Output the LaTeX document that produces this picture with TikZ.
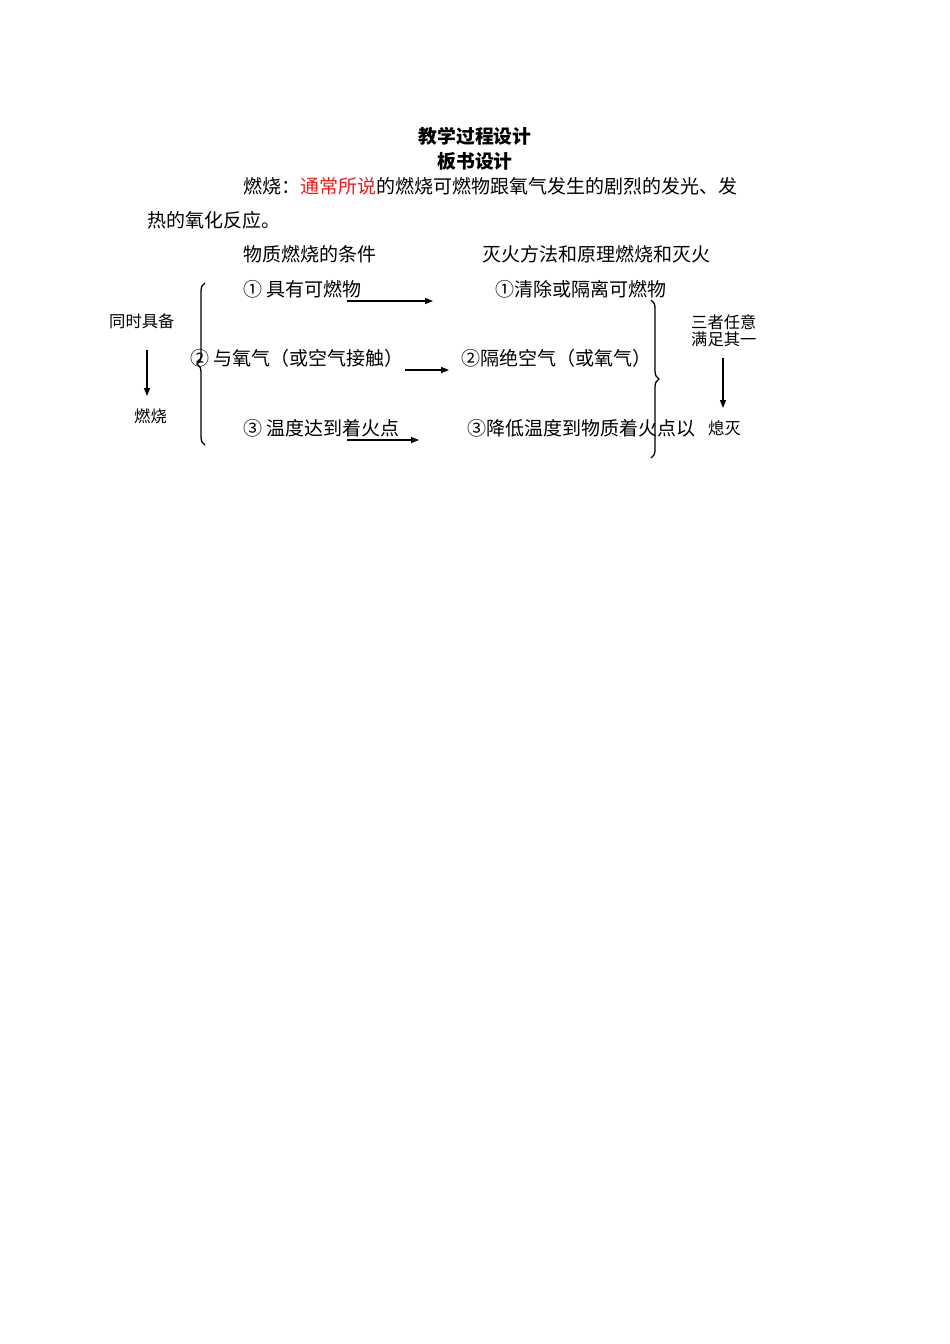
\documentclass[tikz,border=0pt]{standalone}
\usepackage{fontspec}
\setmainfont{Noto Sans CJK SC}
\usetikzlibrary{decorations.pathreplacing,arrows.meta}
\definecolor{redtext}{RGB}{230,30,30}
\begin{document}
\begin{tikzpicture}[x=1pt,y=-1pt,
  body/.style={anchor=west,inner sep=0pt,font=\fontsize{19}{21}\selectfont},
  small/.style={anchor=west,inner sep=0pt,font=\fontsize{16.3}{17}\selectfont},
  title/.style={anchor=center,inner sep=0pt,font=\fontsize{18.8}{20}\selectfont\bfseries},
  arr/.style={-{Triangle[length=8pt,width=6pt]},line width=1.4pt},
  brc/.style={decorate,decoration={brace,amplitude=8pt},line width=1.3pt}]
\useasboundingbox (0,0) rectangle (950,1344);
\node[title] (t1) at (475,136) {教学过程设计};
\node[title] (t2) at (475,161) {板书设计};
\node[body] (p1) at (243,186) {燃烧：\textcolor{redtext}{通常所说}的燃烧可燃物跟氧气发生的剧烈的发光、发};
\node[body] (p2) at (147,220) {热的氧化反应。};
\node[body] (h1) at (243,254) {物质燃烧的条件};
\node[body] (h2) at (482,254) {灭火方法和原理燃烧和灭火};
\node[body] (a1) at (243,289) {① 具有可燃物};
\node[body] (b1) at (495,289) {①清除或隔离可燃物};
\node[body] (a2) at (190,358) {② 与氧气（或空气接触）};
\node[body] (b2) at (461,358) {②隔绝空气（或氧气）};
\node[body] (a3) at (243,428) {③ 温度达到着火点};
\node[body] (b3) at (467,428) {③降低温度到物质着火点以};
\node[small] (xm) at (708,428) {熄灭};
\node[small] (tj) at (109,321) {同时具备};
\node[small] (rs) at (134,416) {燃烧};
\node[small,align=center,font=\fontsize{16.3}{16.8}\selectfont] (sz) at (691,331) {三者任意\\满足其一};
\coordinate (s1) at (347,301); \coordinate (e1) at (433,301);
\coordinate (s2) at (405,370); \coordinate (e2) at (449,370);
\coordinate (s3) at (347,440); \coordinate (e3) at (419,440);
\coordinate (s4) at (147,350); \coordinate (e4) at (147,396);
\coordinate (s5) at (723,358); \coordinate (e5) at (723,408);
\draw[arr] (s1) -- (e1);
\draw[arr] (s2) -- (e2);
\draw[arr] (s3) -- (e3);
\draw[arr] (s4) -- (e4);
\draw[arr] (s5) -- (e5);
\draw[brc] (205,445) -- (205,283);
\draw[brc] (651,300) -- (651,458);
\end{tikzpicture}
\end{document}
